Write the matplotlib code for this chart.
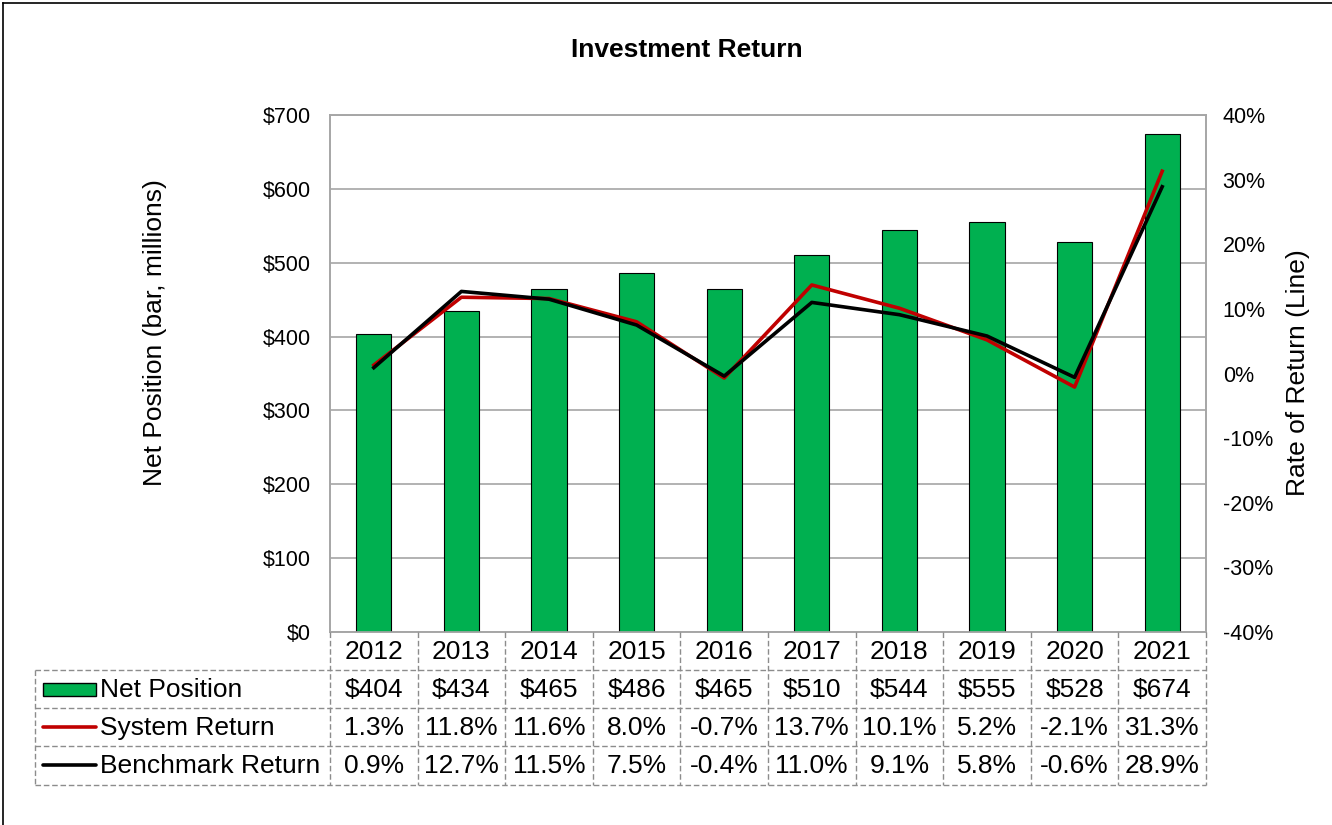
import numpy as np
import matplotlib
matplotlib.use("Agg")
import matplotlib.pyplot as plt
from matplotlib.patches import Rectangle
from matplotlib.lines import Line2D

years = ["2012", "2013", "2014", "2015", "2016", "2017", "2018", "2019", "2020", "2021"]
net_position = [404, 434, 465, 486, 465, 510, 544, 555, 528, 674]
system_return = [1.3, 11.8, 11.6, 8.0, -0.7, 13.7, 10.1, 5.2, -2.1, 31.3]
benchmark_return = [0.9, 12.7, 11.5, 7.5, -0.4, 11.0, 9.1, 5.8, -0.6, 28.9]

plt.rcParams['font.family'] = ['Liberation Sans', 'DejaVu Sans']

W, H = 1332, 825
fig = plt.figure(figsize=(W / 100, H / 100), dpi=100)

# plot area in pixels
px_l, px_r, px_t, px_b = 330, 1206, 115, 632
ax = fig.add_axes([px_l / W, 1 - px_b / H, (px_r - px_l) / W, (px_b - px_t) / H])
x = np.arange(len(years))
GREEN = '#00B050'
RED = '#C00000'
GRID = '#A6A6A6'

ax.bar(x, net_position, width=0.4, color=GREEN, edgecolor='black', linewidth=0.8, zorder=3)
ax.set_xlim(-0.5, len(years) - 0.5)
ax.set_ylim(0, 700)
ax.set_yticks(range(0, 701, 100))
ax.set_yticklabels([f"${v}" for v in range(0, 701, 100)], fontsize=15.5)
ax.set_xticks([])
ax.grid(axis='y', color=GRID, linewidth=1.2, zorder=0)
for s in ['left', 'right', 'top', 'bottom']:
    ax.spines[s].set_color(GRID)
    ax.spines[s].set_linewidth(1.2)
ax.tick_params(axis='y', length=0, pad=14)

ax2 = ax.twinx()
ax2.plot(x, system_return, color=RED, linewidth=2.6, zorder=4)
ax2.plot(x, benchmark_return, color='black', linewidth=2.6, zorder=5)
ax2.set_ylim(-40, 40)
ax2.set_yticks(range(-40, 41, 10))
ax2.set_yticklabels([f"{v}%" for v in range(-40, 41, 10)], fontsize=15.5)
ax2.tick_params(axis='y', length=0, pad=12)
for s in ['left', 'right', 'top', 'bottom']:
    ax2.spines[s].set_color(GRID)
    ax2.spines[s].set_linewidth(1.2)

fig.text(155 / W, 1 - 333 / H, "Net Position (bar, millions)", fontsize=19, rotation=90,
         ha='center', va='center')
fig.text(1298 / W, 1 - 373 / H, "Rate of Return (Line)", fontsize=19, rotation=90,
         ha='center', va='center')
fig.text(687 / W, 1 - 50 / H, "Investment Return", fontsize=19, fontweight='bold',
         ha='center', va='center')

# data table
t_l, t_r, t_t, t_b = 35, 1206, 632, 785
tab = fig.add_axes([t_l / W, 1 - t_b / H, (t_r - t_l) / W, (t_b - t_t) / H])
tab.set_xlim(t_l, t_r)
tab.set_ylim(t_b, t_t)
tab.axis('off')
row_y = [632, 670, 708, 746, 785]
col_w = (px_r - px_l) / len(years)
col_x = [px_l + i * col_w for i in range(len(years) + 1)]
dash = dict(color='#8C8C8C', linewidth=1.0, linestyle=(0, (4, 2)), clip_on=False)
for yy in row_y[1:]:
    tab.plot([t_l, t_r], [yy, yy], **dash)
for cx in col_x:
    tab.plot([cx, cx], [row_y[0], row_y[-1]], **dash)
tab.plot([t_l, t_l], [row_y[1], row_y[-1]], **dash)

fs = 19
for i, yr in enumerate(years):
    cx = col_x[i] + col_w / 2
    tab.text(cx, (row_y[0] + row_y[1]) / 2 + 1, yr, fontsize=fs, ha='center', va='center')
    tab.text(cx, (row_y[1] + row_y[2]) / 2 + 1, f"${net_position[i]}", fontsize=fs, ha='center', va='center')
    tab.text(cx, (row_y[2] + row_y[3]) / 2 + 1, f"{system_return[i]:.1f}%", fontsize=fs, ha='center', va='center')
    tab.text(cx, (row_y[3] + row_y[4]) / 2 + 1, f"{benchmark_return[i]:.1f}%", fontsize=fs, ha='center', va='center')

labels = ["Net Position", "System Return", "Benchmark Return"]
for j, lab in enumerate(labels):
    cy = (row_y[j + 1] + row_y[j + 2]) / 2 + 1
    tab.text(100, cy, lab, fontsize=fs, ha='left', va='center')
tab.add_patch(Rectangle((43, 683), 53, 13, facecolor=GREEN, edgecolor='black', linewidth=1.0))
tab.plot([43, 96], [727, 727], color=RED, linewidth=2.6, solid_capstyle='round')
tab.plot([43, 96], [765, 765], color='black', linewidth=2.6, solid_capstyle='round')

# outer border (top and left edges visible)
fig.lines.append(Line2D([3 / W, 3 / W], [0, 1 - 3 / H], transform=fig.transFigure,
                        color='black', linewidth=1.2))
fig.lines.append(Line2D([3 / W, 1], [1 - 3 / H, 1 - 3 / H], transform=fig.transFigure,
                        color='black', linewidth=1.2))

fig.savefig("out.png", dpi=100)
